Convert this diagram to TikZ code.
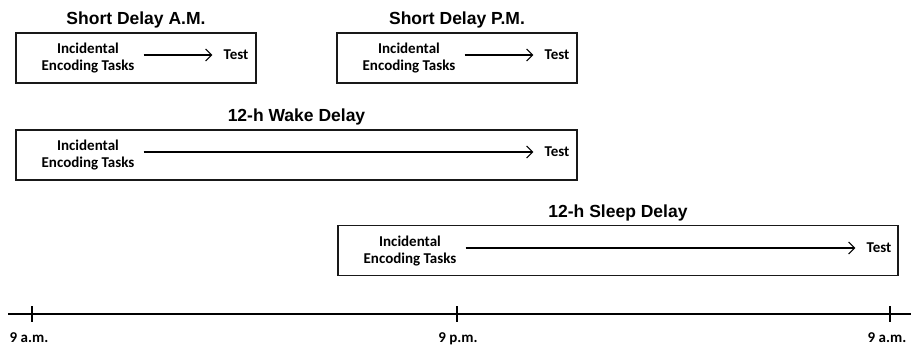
\documentclass[tikz,border=0pt]{standalone}
\usepackage{fontspec}
\setmainfont{Carlito}
\newfontfamily\titlefont{Liberation Sans}
\usetikzlibrary{arrows.meta,calc}
\tikzset{
  panel/.style={draw=black!90, line width=1.3pt, minimum height=50pt, inner sep=0pt},
  paneltitle/.style={font=\titlefont\bfseries\fontsize{17.5}{20}\selectfont, inner sep=0pt, anchor=south},
  task/.style={font=\bfseries\fontsize{15}{17}\selectfont, align=center, inner sep=0pt},
  testlbl/.style={font=\bfseries\fontsize{15}{17}\selectfont, inner sep=0pt},
  flow/.style={line width=1.2pt, -{Straight Barb[length=6pt,width=12pt,line width=1.2pt]}, shorten <=9pt, shorten >=11pt},
  axis/.style={line width=1.3pt},
  tick/.style={line width=1.3pt},
  ticklbl/.style={font=\bfseries\fontsize{15}{17}\selectfont, inner sep=0pt, anchor=base}
}
\begin{document}
\begin{tikzpicture}[x=1pt,y=-1pt]
\useasboundingbox (0,0) rectangle (911,345);

% Short delay, morning session
\node[panel, minimum width=240pt] (amBox) at (136,58) {};
\node[paneltitle] (amTitle) at ($(amBox.north)+(0,-4)$) {Short Delay A.M.};
\node[task] (amEnc) at (88,58.5) {Incidental\\Encoding Tasks};
\node[testlbl] (amTest) at (236,55) {Test};
\draw[flow] (amEnc.east |- amTest) -- (amTest.west);

% Short delay, evening session
\node[panel, minimum width=240pt] (pmBox) at (457,58) {};
\node[paneltitle] (pmTitle) at ($(pmBox.north)+(0,-4)$) {Short Delay P.M.};
\node[task] (pmEnc) at (409,58.5) {Incidental\\Encoding Tasks};
\node[testlbl] (pmTest) at (557,55) {Test};
\draw[flow] (pmEnc.east |- pmTest) -- (pmTest.west);

% 12-h wake delay
\node[panel, minimum width=561pt] (wakeBox) at (296.5,155) {};
\node[paneltitle] (wakeTitle) at ($(wakeBox.north)+(0,-4)$) {12-h Wake Delay};
\node[task] (wakeEnc) at (88,155.5) {Incidental\\Encoding Tasks};
\node[testlbl] (wakeTest) at (557,152) {Test};
\draw[flow] (wakeEnc.east |- wakeTest) -- (wakeTest.west);

% 12-h sleep delay
\node[panel, minimum width=560pt] (sleepBox) at (618,250.5) {};
\node[paneltitle] (sleepTitle) at ($(sleepBox.north)+(0,-4)$) {12-h Sleep Delay};
\node[task] (sleepEnc) at (410,251) {Incidental\\Encoding Tasks};
\node[testlbl] (sleepTest) at (879,248) {Test};
\draw[flow] (sleepEnc.east |- sleepTest) -- (sleepTest.west);

% time axis
\coordinate (axL) at (8,314);
\coordinate (axR) at (911,314);
\draw[axis] (axL) -- (axR);
\foreach \name/\x in {t0/32, t1/457, t2/890}{
  \coordinate (\name) at (\x,314);
  \draw[tick] ($(\name)+(0,-8)$) -- ($(\name)+(0,8)$);
}
\node[ticklbl] (l0) at (29,342) {9 a.m.};
\node[ticklbl] (l1) at (458,342) {9 p.m.};
\node[ticklbl] (l2) at (887,342) {9 a.m.};
\end{tikzpicture}
\end{document}
